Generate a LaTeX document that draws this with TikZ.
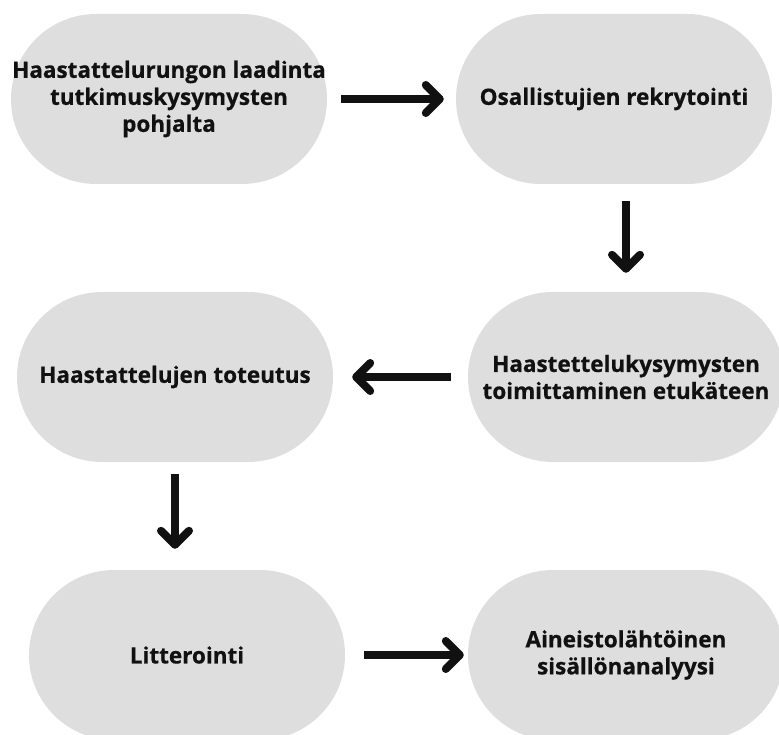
\documentclass[tikz,border=0pt]{standalone}
\usepackage{fontspec}
\setmainfont[BoldFeatures={FakeBold=0.6}]{Open Sans}
\usetikzlibrary{arrows.meta}
\definecolor{boxgray}{HTML}{DEDEDE}
\definecolor{inkblack}{HTML}{111111}
\begin{document}
\begin{tikzpicture}[x=1pt,y=-1pt,
		stadium/.style={fill=boxgray, rounded corners=85pt, minimum width=316pt, minimum height=170pt, inner sep=0pt, align=center, text=inkblack, font=\fontsize{22.5}{27}\selectfont\bfseries},
		flow/.style={line width=8pt, inkblack, -{Straight Barb[length=14pt,width=28pt,round]}}]
				\useasboundingbox (0,0) rectangle (779,735);
				\node[stadium] (suunnittelu) at (169,99) {Haastattelurungon laadinta\\tutkimuskysymysten\\pohjalta};
				\node[stadium] (rekrytointi) at (614,99) {Osallistujien rekrytointi};
				\node[stadium] (toimitus) at (626,377) {Haastettelukysymysten\\toimittaminen etukäteen};
				\node[stadium] (toteutus) at (175,377) {Haastattelujen toteutus};
				\node[stadium] (litterointi) at (187,655) {Litterointi};
				\node[stadium] (analyysi) at (626,655) {Aineistolähtöinen\\sisällönanalyysi};
				\draw[flow, shorten <=14pt, shorten >=12pt] (suunnittelu.east) -- (rekrytointi.west);
				\draw[flow, shorten <=17pt, shorten >=19pt] (toimitus.north |- rekrytointi.south) -- (toimitus.north);
				\draw[flow, shorten <=17pt, shorten >=19pt] (toimitus.west) -- (toteutus.east);
				\draw[flow, shorten <=12pt, shorten >=21pt] (toteutus.south) -- (toteutus.south |- litterointi.north);
				\draw[flow, shorten <=19pt, shorten >=4pt] (litterointi.east) -- (analyysi.west);
			\end{tikzpicture}
\end{document}
